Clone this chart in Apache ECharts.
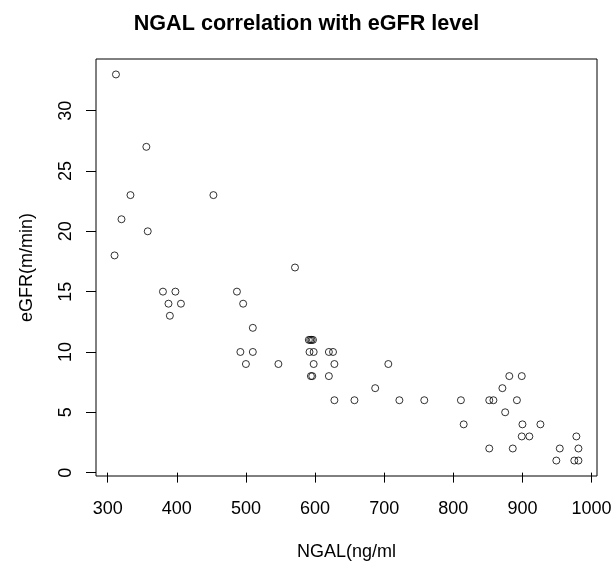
<!DOCTYPE html>
<html>
<head>
<meta charset="utf-8">
<script src="https://cdn.jsdelivr.net/npm/echarts@6/dist/echarts.min.js"></script>
<style>
html,body{margin:0;padding:0;background:#fff;}
#chart{width:613px;height:565px;}
</style>
</head>
<body>
<div id="chart"></div>
<script>
// Data
var ngal = [312,356,333,453,320,358,310,380,398,388,406,390,487,496,510,492,510,500,547,571,
            591,593,595,597,592,598,620,626,598,628,594,596,620,
            706,687,628,657,722,758,811,815,852,858,852,
            881,899,871,892,875,900,926,899,910,886,954,981,978,949,975,981];
var egfr = [33,27,23,23,21,20,18,15,15,14,14,13,15,14,12,10,10,9,9,17,
            11,11,11,11,10,10,10,10,9,9,8,8,8,
            9,7,6,6,6,6,6,4,6,6,2,
            8,8,7,6,5,4,4,3,3,2,2,2,3,1,1,1];
var xTicks = [300,400,500,600,700,800,900,1000];
var yTicks = [0,5,10,15,20,25,30];
var titleText = 'NGAL correlation with eGFR level';
var xName = 'NGAL(ng/ml';
var yName = 'eGFR(m/min)';

function rLim(arr){
  var mn = Math.min.apply(null, arr), mx = Math.max.apply(null, arr);
  var r = mx - mn;
  return [mn - 0.04*r, mx + 0.04*r];
}
var xl = rLim(ngal), yl = rLim(egfr);
var pts = ngal.map(function(v,i){return [v, egfr[i]];});
function plain(v){ return String(v); }

var font = 'Liberation Sans, Arial, sans-serif';
var chart = echarts.init(document.getElementById('chart'), null, {renderer:'canvas'});
chart.setOption({
  backgroundColor:'#fff',
  animation:false,
  title:{
    text:titleText, left:'center', top:8,
    textStyle:{fontFamily:font, fontWeight:'bold', fontSize:21.6, color:'#000'}
  },
  grid:{left:96, right:16, top:59, bottom:89, show:true, borderColor:'#000', borderWidth:1,
        backgroundColor:'transparent', containLabel:false, outerBoundsMode:'none'},
  xAxis:{
    type:'value', min:xl[0], max:xl[1],
    name:xName, nameLocation:'middle', nameGap:67,
    nameTextStyle:{fontFamily:font, fontSize:18, color:'#000'},
    axisLine:{show:false},
    splitLine:{show:false},
    axisTick:{show:true, length:10, customValues:xTicks, lineStyle:{color:'#000', width:1}},
    axisLabel:{customValues:xTicks, formatter:plain, margin:24, fontFamily:font, fontSize:18, color:'#000'}
  },
  yAxis:{
    type:'value', min:yl[0], max:yl[1],
    name:yName, nameLocation:'middle', nameGap:60, nameRotate:90,
    nameTextStyle:{fontFamily:font, fontSize:18, color:'#000'},
    axisLine:{show:false},
    splitLine:{show:false},
    axisTick:{show:true, length:10, customValues:yTicks, lineStyle:{color:'#000', width:1}},
    axisLabel:{customValues:yTicks, formatter:plain, rotate:90, margin:21, fontFamily:font, fontSize:18, color:'#000'}
  },
  series:[{
    type:'scatter',
    data:pts,
    symbol:'circle',
    symbolSize:7,
    itemStyle:{color:'rgba(0,0,0,0)', borderColor:'#000', borderWidth:1},
    silent:true
  }]
});
</script>
</body>
</html>
